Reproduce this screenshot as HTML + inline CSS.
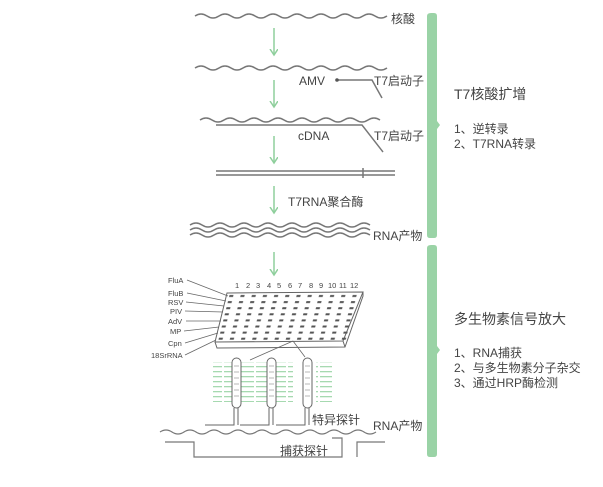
<!DOCTYPE html>
<html><head><meta charset="utf-8"><style>
html,body{margin:0;padding:0;background:#fff;}
svg{display:block;}
text{font-family:"Liberation Sans","Noto Sans CJK SC",sans-serif;fill:#444;}
</style></head><body>
<svg width="603" height="487" viewBox="0 0 603 487" xmlns="http://www.w3.org/2000/svg">
<defs>
<marker id="ah" markerWidth="8" markerHeight="10" refX="6" refY="4" orient="auto" markerUnits="userSpaceOnUse"><path d="M0,0 L6,4 L0,8" fill="none" stroke="#8fcf9c" stroke-width="1.5"/></marker>
<pattern id="dots" width="11.2" height="6.1" patternUnits="userSpaceOnUse"><rect x="3" y="2" width="4" height="2" fill="#555"/></pattern>
<pattern id="gd" width="16" height="5" patternUnits="userSpaceOnUse"><rect x="0" y="1" width="14" height="1.3" fill="#a6d9b0"/></pattern>
</defs>
<g fill="none" stroke="#777" stroke-width="1.5">
<path d="M195,16 q6,-4 12,0 t12,0 t12,0 t12,0 t12,0 t12,0 t12,0 t12,0 t12,0 t12,0 t12,0 t12,0 t12,0 t12,0 t12,0 t12,0"/>
<path d="M195,68 q6,-4 12,0 t12,0 t12,0 t12,0 t12,0 t12,0 t12,0 t12,0 t12,0 t12,0 t12,0 t12,0 t12,0 t12,0 t12,0 t12,0"/>
<path d="M200,120 q6,-4 12,0 t12,0 t12,0 t12,0 t12,0 t12,0 t12,0 t12,0 t12,0 t12,0 t12,0 t12,0 t12,0 t12,0 t12,0"/>
<path d="M337,80 H372 L382,98"/>
<path d="M216,125 H362 L383,152"/>
<path d="M216,171 H395 M216,175 H395 M363,168 V178"/>
<path d="M190,225 q6,-4 12,0 t12,0 t12,0 t12,0 t12,0 t12,0 t12,0 t12,0 t12,0 t12,0 t12,0 t12,0 t12,0 t12,0 t12,0"/>
<path d="M190,230 q6,-4 12,0 t12,0 t12,0 t12,0 t12,0 t12,0 t12,0 t12,0 t12,0 t12,0 t12,0 t12,0 t12,0 t12,0 t12,0"/>
<path d="M190,235 q6,-4 12,0 t12,0 t12,0 t12,0 t12,0 t12,0 t12,0 t12,0 t12,0 t12,0 t12,0 t12,0 t12,0 t12,0 t12,0"/>
<path d="M160,432 q6,-4 12,0 t12,0 t12,0 t12,0 t12,0 t12,0 t12,0 t12,0 t12,0 t12,0 t12,0 t12,0 t12,0 t12,0 t12,0 t12,0 t12,0 t12,0" stroke-width="1.2"/>
<path d="M165,442 H194 V457 H342 V438 H332 M357,457 V442 H385" stroke-width="1.2"/>
</g>
<circle cx="337" cy="80" r="1.8" fill="#555"/>
<g stroke="#8fcf9c" stroke-width="1.5" marker-end="url(#ah)">
<line x1="274" y1="28" x2="274" y2="55"/>
<line x1="274" y1="80" x2="274" y2="107"/>
<line x1="274" y1="136" x2="274" y2="163"/>
<line x1="274" y1="186" x2="274" y2="213"/>
<line x1="274" y1="252" x2="274" y2="275"/>
</g>
<g fill="#9ad3a6">
<path d="M427,16 Q427,13 431,13 L434,13 Q437,13 437,16 L437,121 L440,125 L437,129 L437,235 Q437,238 434,238 L430,238 Q427,238 427,235 Z"/>
<path d="M427,248 Q427,245 431,245 L434,245 Q437,245 437,248 L437,346 L440,350 L437,354 L437,454 Q437,457 434,457 L430,457 Q427,457 427,454 Z"/>
</g>
<g font-size="12">
<text x="391" y="23">核酸</text>
<text x="299" y="85">AMV</text>
<text x="374" y="85">T7启动子</text>
<text x="298" y="140">cDNA</text>
<text x="374" y="140">T7启动子</text>
<text x="288" y="206">T7RNA聚合酶</text>
<text x="373" y="240">RNA产物</text>
<text x="373" y="430">RNA产物</text>
<text x="312" y="424">特异探针</text>
<text x="280" y="455">捕获探针</text>
</g>
<text x="454" y="99" font-size="14">T7核酸扩增</text>
<text x="454" y="133" font-size="12">1、逆转录</text>
<text x="454" y="148" font-size="12">2、T7RNA转录</text>
<text x="454" y="324" font-size="14">多生物素信号放大</text>
<text x="454" y="357" font-size="12">1、RNA捕获</text>
<text x="454" y="372" font-size="12">2、与多生物素分子杂交</text>
<text x="454" y="387" font-size="12">3、通过HRP酶检测</text>
<g fill="none" stroke="#666" stroke-width="1">
<path d="M227,293 L363,292 L343,341 L215,342 Z" fill="#fff"/>
<path d="M215,342 L217,348 L345,347 L363,296 L363,292 M343,341 L345,347"/>
</g>
<g transform="translate(227,293) skewX(-13.8)"><rect x="0" y="0" width="134" height="49" fill="url(#dots)"/></g>
<g font-size="7.5" fill="#555">
<text x="235" y="288">1</text><text x="246" y="288">2</text><text x="256" y="288">3</text><text x="267" y="288">4</text><text x="277" y="288">5</text><text x="288" y="288">6</text><text x="298" y="288">7</text><text x="309" y="288">8</text><text x="319" y="288">9</text><text x="328" y="288">10</text><text x="339" y="288">11</text><text x="350" y="288">12</text>
</g>
<g font-size="7.5">
<text x="168" y="283">FluA</text><text x="168" y="296">FluB</text><text x="168" y="305">RSV</text><text x="170" y="314">PIV</text><text x="168" y="324">AdV</text><text x="170" y="334">MP</text><text x="168" y="346">Cpn</text><text x="151" y="358">18SrRNA</text>
</g>
<g stroke="#666" stroke-width="0.8">
<line x1="187" y1="280" x2="228" y2="296"/><line x1="187" y1="293" x2="226" y2="301"/><line x1="186" y1="302" x2="224" y2="306"/><line x1="185" y1="311" x2="223" y2="312"/><line x1="186" y1="321" x2="221" y2="321"/><line x1="184" y1="331" x2="219" y2="327"/><line x1="185" y1="343" x2="218" y2="333"/><line x1="185" y1="355" x2="216" y2="340"/>
<line x1="293" y1="341" x2="250" y2="360"/><line x1="293" y1="341" x2="305" y2="357"/>
</g>
<rect x="213" y="362" width="80" height="40" fill="url(#gd)"/>
<rect x="316" y="362" width="16" height="40" fill="url(#gd)"/>
<g fill="#fff" stroke="#666" stroke-width="1">
<rect x="232" y="358" width="9" height="50" rx="4.5"/>
<rect x="267" y="358" width="9" height="50" rx="4.5"/>
<rect x="303" y="358" width="9" height="50" rx="4.5"/>
</g>
<g fill="none" stroke="#666" stroke-width="1">
<path d="M234,408 V425 H205 M238,408 V425"/>
<path d="M269,408 V425 H240 M273,408 V425"/>
<path d="M305,408 V425 H276 M309,408 V425"/>
</g>
<g stroke="#999" stroke-width="0.7">
<line x1="234" y1="366" x2="239" y2="366"/><line x1="234" y1="372" x2="239" y2="372"/><line x1="234" y1="378" x2="239" y2="378"/><line x1="234" y1="384" x2="239" y2="384"/><line x1="234" y1="390" x2="239" y2="390"/><line x1="234" y1="396" x2="239" y2="396"/>
<line x1="269" y1="366" x2="274" y2="366"/><line x1="269" y1="372" x2="274" y2="372"/><line x1="269" y1="378" x2="274" y2="378"/><line x1="269" y1="384" x2="274" y2="384"/><line x1="269" y1="390" x2="274" y2="390"/><line x1="269" y1="396" x2="274" y2="396"/>
<line x1="305" y1="366" x2="310" y2="366"/><line x1="305" y1="372" x2="310" y2="372"/><line x1="305" y1="378" x2="310" y2="378"/><line x1="305" y1="384" x2="310" y2="384"/><line x1="305" y1="390" x2="310" y2="390"/><line x1="305" y1="396" x2="310" y2="396"/>
</g>
</svg>
</body></html>
